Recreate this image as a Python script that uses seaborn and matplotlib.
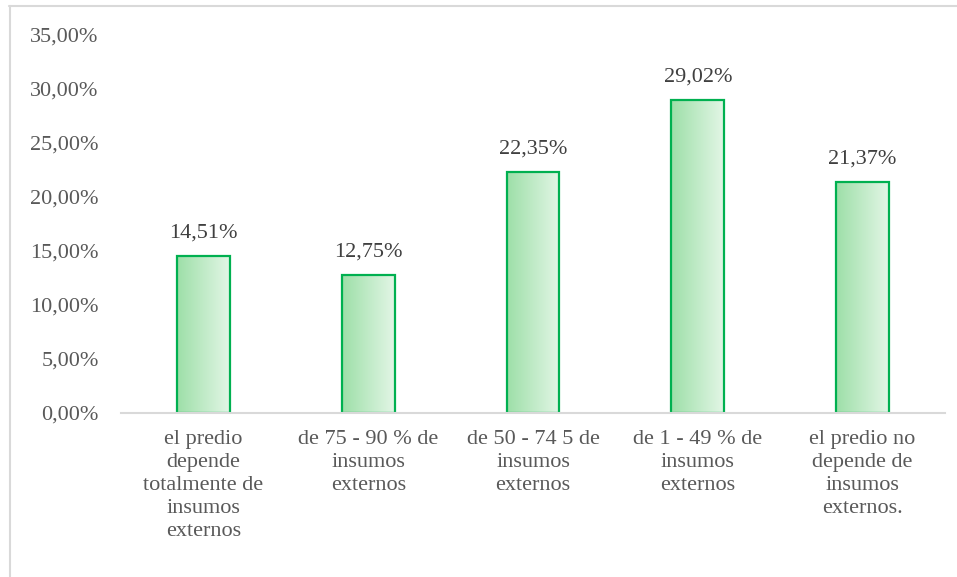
import numpy as np
import pandas as pd
import matplotlib
matplotlib.use("Agg")
import matplotlib.pyplot as plt
import seaborn as sns
from matplotlib.colors import LinearSegmentedColormap
from matplotlib.lines import Line2D

categories = [
    "el predio\ndepende\ntotalmente de\ninsumos\nexternos",
    "de 75 - 90 % de\ninsumos\nexternos",
    "de 50 - 74 5 de\ninsumos\nexternos",
    "de 1 - 49 % de\ninsumos\nexternos",
    "el predio no\ndepende de\ninsumos\nexternos.",
]
values = [14.51, 12.75, 22.35, 29.02, 21.37]
yticks = [0, 5, 10, 15, 20, 25, 30, 35]

sns.set_theme(style="white")
plt.rcParams["font.family"] = ["Liberation Serif", "DejaVu Serif"]

FS = 16

df = pd.DataFrame({"cat": categories, "val": values})

fig = plt.figure(figsize=(9.57, 5.77), dpi=100)
ax = fig.add_axes([121/957, 1-413/577, (945-121)/957, 378/577])

sns.barplot(data=df, x="cat", y="val", ax=ax, width=0.32,
            color="#c0ebc6", edgecolor="#00b050", linewidth=1.6, zorder=3)

cmap = LinearSegmentedColormap.from_list("g", ["#9ddfa8", "#e3f6e6"])
grad = np.linspace(0, 1, 256).reshape(1, -1)
for p in ax.patches:
    x0, y0 = p.get_x(), p.get_y()
    w, h = p.get_width(), p.get_height()
    im = ax.imshow(grad, cmap=cmap, aspect="auto", extent=[x0, x0 + w, y0, y0 + h],
                   zorder=2.5, interpolation="bilinear")
    im.set_clip_path(p)
    p.set_facecolor("none")

for i, v in enumerate(values):
    ax.annotate(f"{v:.2f}%".replace(".", ","), xy=(i, v), xytext=(0, 16.5),
                textcoords="offset points", ha="center", va="center",
                fontsize=FS, color="#404040")

ax.set_xlim(-0.5, len(values) - 0.5)
ax.set_ylim(0, 35)
ax.set_yticks(yticks)
ax.set_yticklabels([f"{t:.2f}%".replace(".", ",") for t in yticks], fontsize=FS, color="#595959")
ax.tick_params(axis="x", labelsize=FS, colors="#595959", pad=12, length=0)
ax.tick_params(axis="y", length=0, pad=16)
for lab in ax.get_xticklabels():
    lab.set_linespacing(1.3)
ax.set_xlabel("")
ax.set_ylabel("")
for s in ["top", "right", "left"]:
    ax.spines[s].set_visible(False)
ax.spines["bottom"].set_color("#d9d9d9")
ax.spines["bottom"].set_linewidth(1.5)
ax.spines["bottom"].set_zorder(4)

# outer chart border (partially visible)
fig.add_artist(Line2D([9/957, 1], [1-5.5/577, 1-5.5/577], color="#d9d9d9", lw=1.5,
                      transform=fig.transFigure))
fig.add_artist(Line2D([9.5/957, 9.5/957], [0, 1-5.5/577], color="#d9d9d9", lw=1.5,
                      transform=fig.transFigure))

fig.savefig("out.png", dpi=100)
